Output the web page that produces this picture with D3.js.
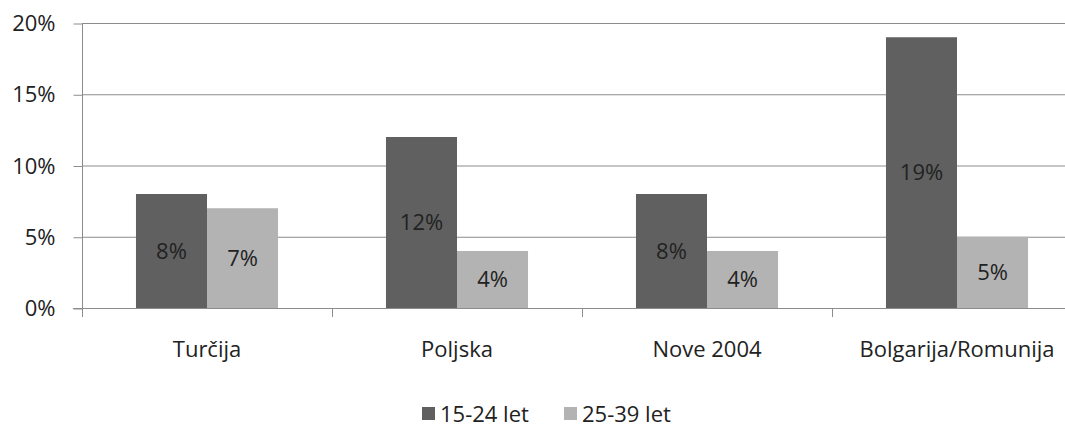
<!DOCTYPE html>
<html>
<head>
<meta charset="utf-8">
<script src="https://cdn.jsdelivr.net/npm/d3@7"></script>
<style>
  body { margin: 0; background: #fff; }
  text { font-family: "Open Sans", "DejaVu Sans", sans-serif; fill: #222; }
</style>
</head>
<body>
<svg id="chart"></svg>
<script>
// data
var categories = ["Turčija", "Poljska", "Nove 2004", "Bolgarija/Romunija"];
var seriesNames = ["15-24 let", "25-39 let"];
var young = [8, 12, 8, 19];
var older = [7, 4, 4, 5];
var yTicks = [0, 5, 10, 15, 20];
var colors = ["#606060", "#b3b3b3"];

var width = 1065, height = 430;
var padding = { top: 23, bottom: 122, left: 82, right: -17 };
var fontSize = "22px";

var svg = d3.select("#chart")
            .attr("width", width)
            .attr("height", height);

var rows = categories.map((c, i) => ({ cat: c, values: [young[i], older[i]] }));

var xScale = d3.scaleBand()
               .domain(categories)
               .range([padding.left, width - padding.right])
               .paddingInner(0)
               .paddingOuter(0);

var xInner = d3.scaleBand()
               .domain([0, 1])
               .range([0, xScale.bandwidth()])
               .paddingOuter(0.76)
               .paddingInner(0);

var yScale = d3.scaleLinear()
               .domain([0, 20])
               .range([height - padding.bottom, padding.top]);

// gridlines
svg.append("g")
   .selectAll("line")
   .data(yTicks.filter(d => d > 0))
   .join("line")
     .attr("x1", padding.left)
     .attr("x2", width)
     .attr("y1", d => yScale(d) + 0.5)
     .attr("y2", d => yScale(d) + 0.5)
     .attr("stroke", "#8c8c8c")
     .attr("stroke-width", 1);

// y axis
var yAxis = d3.axisLeft(yScale)
              .tickValues(yTicks)
              .tickSize(9)
              .tickPadding(18)
              .tickFormat(d => d + "%");

svg.append("g")
   .attr("transform", "translate(" + (padding.left + 0.5) + ",0.5)")
   .call(yAxis)
   .call(g => g.selectAll("line, path").attr("stroke", "#8c8c8c"))
   .call(g => g.select(".domain").attr("d", "M0," + yScale(20) + "V" + yScale(0)))
   .call(g => g.selectAll("text")
               .attr("font-size", fontSize)
               .attr("font-family", "'Open Sans', sans-serif")
               .attr("fill", "#222"));

// bars
var groups = svg.append("g")
   .selectAll("g")
   .data(rows)
   .join("g")
     .attr("transform", d => "translate(" + xScale(d.cat) + ",0)");

groups.selectAll("rect")
   .data(d => d.values)
   .join("rect")
     .attr("x", (d, i) => xInner(i))
     .attr("width", xInner.bandwidth())
     .attr("y", d => yScale(d))
     .attr("height", d => yScale(0) - yScale(d))
     .attr("fill", (d, i) => colors[i]);

groups.selectAll("text")
   .data(d => d.values)
   .join("text")
     .attr("x", (d, i) => xInner(i) + xInner.bandwidth() / 2)
     .attr("y", d => (yScale(d) + yScale(0)) / 2)
     .attr("dy", "0.35em")
     .attr("text-anchor", "middle")
     .attr("font-size", fontSize)
     .text(d => d + "%");

// x axis
var xAxis = d3.axisBottom(xScale)
              .tickSize(0)
              .tickPadding(33);

svg.append("g")
   .attr("transform", "translate(0," + (yScale(0) + 0.5) + ")")
   .call(xAxis)
   .call(g => g.select(".domain").attr("d", "M" + (padding.left - 9) + ",0H" + width).attr("stroke", "#8c8c8c"))
   .call(g => g.selectAll("text")
               .attr("font-size", fontSize)
               .attr("font-family", "'Open Sans', sans-serif")
               .attr("fill", "#222"));

// category boundary ticks
svg.append("g")
   .selectAll("line")
   .data(categories)
   .join("line")
     .attr("x1", d => Math.round(xScale(d)) + 0.5)
     .attr("x2", d => Math.round(xScale(d)) + 0.5)
     .attr("y1", yScale(0))
     .attr("y2", yScale(0) + 9)
     .attr("stroke", "#8c8c8c");

// legend
var legendX = [422, 564];
var legend = svg.append("g")
   .selectAll("g")
   .data(seriesNames)
   .join("g")
     .attr("transform", (d, i) => "translate(" + legendX[i] + ",414)");

legend.append("rect")
   .attr("x", 0)
   .attr("y", -7)
   .attr("width", 13)
   .attr("height", 13)
   .attr("fill", (d, i) => colors[i]);

legend.append("text")
   .attr("x", 18)
   .attr("dy", "0.35em")
   .attr("font-size", fontSize)
   .text(d => d);
</script>
</body>
</html>
